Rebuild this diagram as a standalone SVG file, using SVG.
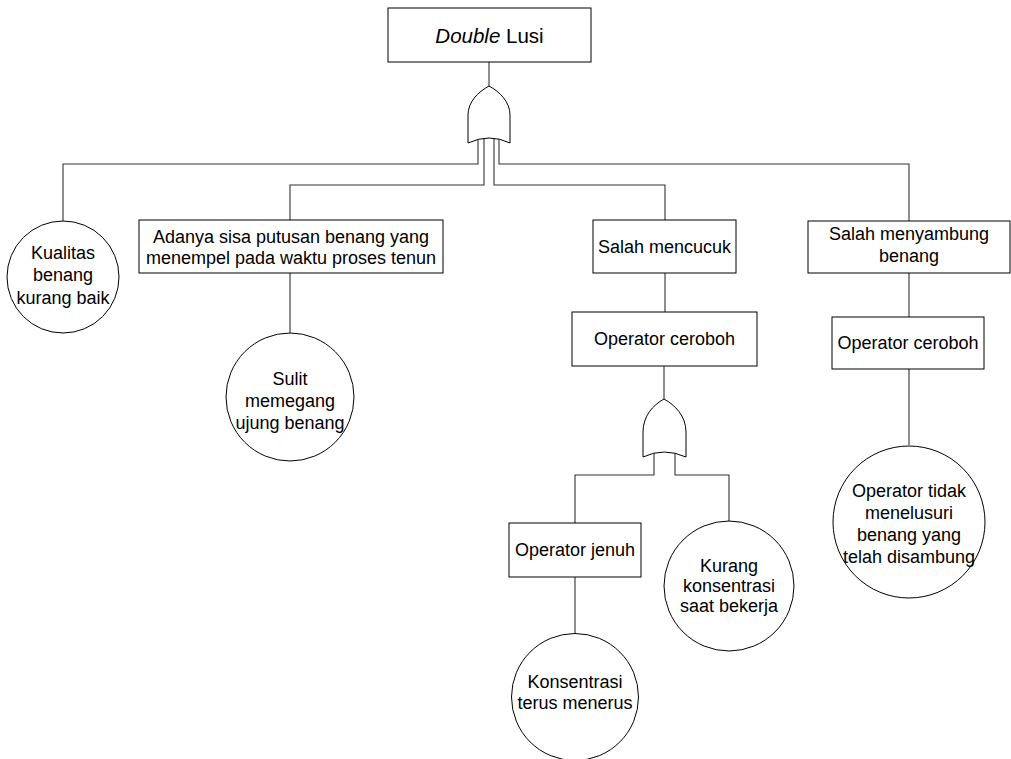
<svg xmlns="http://www.w3.org/2000/svg" width="1011" height="759" viewBox="0 0 1011 759">
<style>
.box{fill:#fff;stroke:#000;stroke-width:1}
.gate{fill:#fff;stroke:#000;stroke-width:1}
.ev{fill:#fff;stroke:#000;stroke-width:1}
.con{fill:none;stroke:#333;stroke-width:1.1}
text{font-family:"Liberation Sans",Arial,sans-serif;font-size:18px;fill:#000;text-anchor:middle}
</style>
<rect width="1011" height="759" fill="#fff"/>
<g id="connectors">
<path class="con" d="M489,62 V88"/>
<path class="con" d="M478,138 V164 H63 V221"/>
<path class="con" d="M484,138 V185 H290 V220"/>
<path class="con" d="M494,138 V185 H665 V220"/>
<path class="con" d="M499,138 V164 H909 V221"/>
<path class="con" d="M290,273 V333"/>
<path class="con" d="M665,273 V312"/>
<path class="con" d="M664,366 V401"/>
<path class="con" d="M654,452 V475 H575 V523"/>
<path class="con" d="M675,452 V475 H729 V521"/>
<path class="con" d="M575,577 V634"/>
<path class="con" d="M909,273 V317"/>
<path class="con" d="M909,369 V445"/>
</g>
<g id="top">
<rect class="box" x="388" y="8" width="203" height="54"/>
<text x="489.5" y="43" style="font-size:20.5px"><tspan font-style="italic">Double</tspan> Lusi</text>
</g>
<g id="gate1">
<path class="gate" d="M489,86 C500,92 510,102 510,115 L510,143 Q489,133 468,143 L468,115 C468,102 478,92 489,86 Z"/>
</g>
<g id="kualitas">
<circle class="ev" cx="63" cy="277" r="56"/>
<text x="63" y="259">Kualitas</text>
<text x="63" y="281">benang</text>
<text x="63" y="304">kurang baik</text>
</g>
<g id="adanya">
<rect class="box" x="139" y="220" width="304" height="53"/>
<text x="291" y="243">Adanya sisa putusan benang yang</text>
<text x="291" y="264">menempel pada waktu proses tenun</text>
</g>
<g id="sulit">
<circle class="ev" cx="290" cy="397" r="64"/>
<text x="290" y="385">Sulit</text>
<text x="290" y="407">memegang</text>
<text x="290" y="429">ujung benang</text>
</g>
<g id="mencucuk">
<rect class="box" x="593" y="220" width="143" height="53"/>
<text x="664.5" y="253">Salah mencucuk</text>
</g>
<g id="ceroboh1">
<rect class="box" x="572" y="312" width="185" height="54"/>
<text x="664.5" y="345">Operator ceroboh</text>
</g>
<g id="gate2">
<path class="gate" d="M664,399 C675,405 686,416 686,432 L686,457 Q664,447 643,457 L643,432 C643,416 653,405 664,399 Z"/>
</g>
<g id="jenuh">
<rect class="box" x="509" y="523" width="132" height="54"/>
<text x="575" y="556">Operator jenuh</text>
</g>
<g id="konsentrasi">
<circle class="ev" cx="575" cy="697" r="63.5"/>
<text x="575" y="688">Konsentrasi</text>
<text x="575" y="709">terus menerus</text>
</g>
<g id="kurang">
<circle class="ev" cx="729" cy="586" r="65"/>
<text x="729" y="572">Kurang</text>
<text x="729" y="592">konsentrasi</text>
<text x="729" y="612">saat bekerja</text>
</g>
<g id="menyambung">
<rect class="box" x="808" y="221" width="202" height="52"/>
<text x="909" y="240">Salah menyambung</text>
<text x="909" y="262">benang</text>
</g>
<g id="ceroboh2">
<rect class="box" x="832" y="317" width="152" height="52"/>
<text x="908" y="349">Operator ceroboh</text>
</g>
<g id="tidak">
<circle class="ev" cx="909" cy="522" r="76"/>
<text x="909" y="497">Operator tidak</text>
<text x="909" y="519">menelusuri</text>
<text x="909" y="541">benang yang</text>
<text x="909" y="563">telah disambung</text>
</g>
</svg>
